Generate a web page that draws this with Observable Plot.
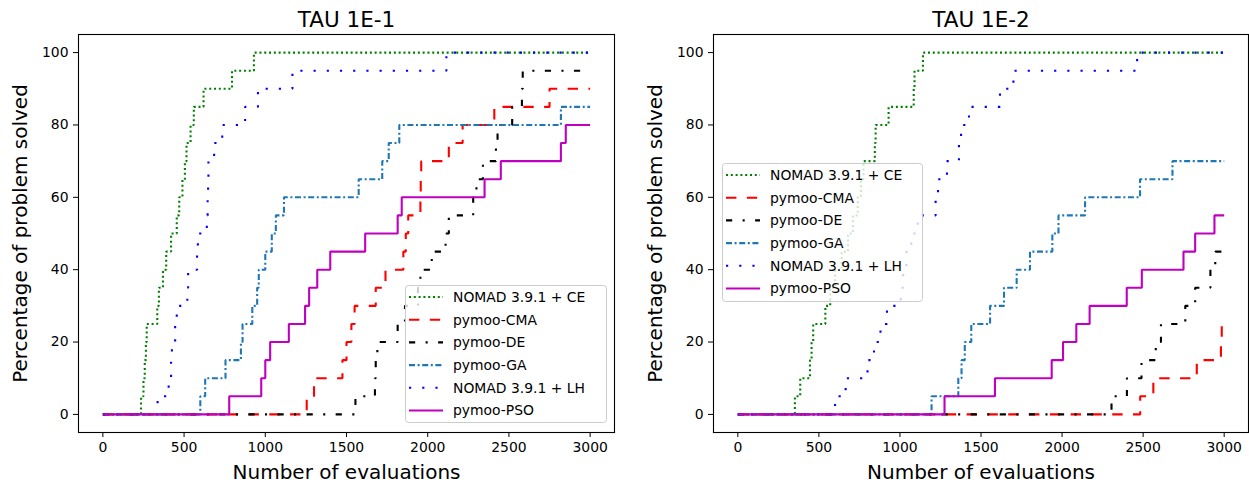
<!DOCTYPE html>
<html><head><meta charset="utf-8">
<script src="https://cdn.jsdelivr.net/npm/d3@7"></script>
<script src="https://cdn.jsdelivr.net/npm/@observablehq/plot@0.6"></script>
<style>
body{margin:0;background:#fff;}
#wrap{position:relative;width:1249px;height:486px;overflow:hidden;font-family:"DejaVu Sans",sans-serif;}
.panel{position:absolute;top:0;}
.legend{position:absolute;}
</style></head>
<body><div id="wrap"></div>
<script>
// ---------- data ----------
const seriesNames = ["NOMAD 3.9.1 + CE","pymoo-CMA","pymoo-DE","pymoo-GA","NOMAD 3.9.1 + LH","pymoo-PSO"];
const xTicks = [0,500,1000,1500,2000,2500,3000];
const yTicks = [0,20,40,60,80,100];
const panelTitles = ["TAU 1E-1","TAU 1E-2"];

// TAU 1E-1
const tau1_CE_x  = [0,235,250,258,265,270,335,345,370,390,420,455,470,490,505,515,540,560,620,795,930,3000];
const tau1_CE_y  = [0,5,10,15,20,25,30,35,40,45,50,55,60,65,70,75,80,85,90,95,100,100];
const tau1_CMA_x = [0,1255,1300,1475,1500,1530,1550,1680,1740,1850,1865,1880,1955,1957,1960,2130,2215,2410,2750,3000];
const tau1_CMA_y = [0,5,10,15,20,25,30,35,40,45,50,55,60,65,70,75,80,85,90,90];
const tau1_DE_x  = [0,1555,1675,1680,1690,1815,1860,1940,1955,2025,2110,2130,2280,2300,2340,2420,2430,2520,2580,2585,3000];
const tau1_DE_y  = [0,5,10,15,20,25,30,35,40,45,50,55,60,65,70,75,80,85,90,95,95];
const tau1_GA_x  = [0,600,630,755,850,860,920,950,960,1000,1040,1065,1115,1575,1720,1760,1825,2820,3000];
const tau1_GA_y  = [0,5,10,15,20,25,30,35,40,45,50,55,60,65,70,75,80,85,85];
const tau1_LH_x  = [0,337,405,420,425,445,455,520,525,580,585,640,645,648,650,685,735,876,955,1167,2115,3000];
const tau1_LH_y  = [0,5,10,15,20,25,30,35,40,45,50,55,60,65,70,75,80,85,90,95,100,100];
const tau1_PSO_x = [0,778,975,1000,1030,1145,1245,1270,1320,1400,1615,1815,1840,2350,2450,2820,2850,3000];
const tau1_PSO_y = [0,5,10,15,20,25,30,35,40,45,50,55,60,65,70,75,80,80];

// TAU 1E-2
const tau2_CE_x  = [0,352,385,445,455,465,540,570,600,640,680,710,740,760,775,845,850,930,1085,1090,1142,3000];
const tau2_CE_y  = [0,5,10,15,20,25,30,35,40,45,50,55,60,65,70,75,80,85,90,95,100,100];
const tau2_CMA_x = [0,2482,2563,2831,2980,2985,3000];
const tau2_CMA_y = [0,5,10,15,20,25,25];
const tau2_DE_x  = [0,2305,2400,2490,2578,2610,2760,2821,2915,2945,3000];
const tau2_DE_y  = [0,5,10,15,20,25,30,35,40,45,45];
const tau2_GA_x  = [0,1195,1360,1380,1400,1440,1556,1642,1720,1802,1940,1978,2142,2481,2681,3000];
const tau2_GA_y  = [0,5,10,15,20,25,30,35,40,45,50,55,60,65,70,70];
const tau2_LH_x  = [0,600,665,800,840,880,920,1005,1020,1040,1070,1110,1220,1235,1290,1364,1377,1426,1617,1700,2463,3000];
const tau2_LH_y  = [0,5,10,15,20,25,30,35,40,45,50,55,60,65,70,75,80,85,90,95,100,100];
const tau2_PSO_x = [0,1275,1586,1936,2006,2088,2170,2399,2492,2749,2821,2940,3000];
const tau2_PSO_y = [0,5,10,15,20,25,30,35,40,45,50,55,55];

// ---------- styles ----------
const seriesColors = ["#008000","#ff0000","#000000","#1f77b4","#0000ff","#bf00bf"];
const seriesDash   = ["2,2.8","10.4,10.4","6.2,10.4,2.1,10.4","6,2.6,2,2.6","2.2,11","none"];

const panelsData = [
  [[tau1_CE_x,tau1_CE_y],[tau1_CMA_x,tau1_CMA_y],[tau1_DE_x,tau1_DE_y],[tau1_GA_x,tau1_GA_y],[tau1_LH_x,tau1_LH_y],[tau1_PSO_x,tau1_PSO_y]],
  [[tau2_CE_x,tau2_CE_y],[tau2_CMA_x,tau2_CMA_y],[tau2_DE_x,tau2_DE_y],[tau2_GA_x,tau2_GA_y],[tau2_LH_x,tau2_LH_y],[tau2_PSO_x,tau2_PSO_y]]
];

const layouts = [
  {left:0, width:624, marginLeft:78, marginRight:10, legend:{left:405, top:285, w:202, h:138}},
  {left:624, width:625, marginLeft:89, marginRight:1, legend:{left:722, top:163, w:201, h:139}}
];

const wrap = document.getElementById("wrap");

panelsData.forEach((series, p) => {
  const L = layouts[p];
  const marks = [];
  series.forEach(([xs, ys], i) => {
    const rows = xs.map((x, j) => ({x, y: ys[j]}));
    marks.push(Plot.line(rows, {
      x: "x", y: "y", curve: "step-after",
      stroke: seriesColors[i], strokeWidth: 2.1,
      strokeDasharray: seriesDash[i] === "none" ? null : seriesDash[i],
      strokeLinecap: "butt", strokeLinejoin: "miter"
    }));
  });
  marks.push(Plot.axisX({ticks: xTicks, tickSize: 5, tickPadding: 5, tickFormat: d => String(d), label: null, fontSize: 13.9}));
  marks.push(Plot.axisY({ticks: yTicks, tickSize: 5, tickPadding: 5, tickFormat: d => String(d), label: null, fontSize: 13.9}));
  marks.push(Plot.frame({stroke: "#000", strokeWidth: 1.1}));
  marks.push(Plot.text([panelTitles[p]], {frameAnchor: "top", dy: -8, lineAnchor: "bottom", fontSize: 21.5, fill: "#000"}));
  marks.push(Plot.text(["Number of evaluations"], {frameAnchor: "bottom", dy: 46, lineAnchor: "bottom", fontSize: 20, fill: "#000"}));
  marks.push(Plot.text(["Percentage of problem solved"], {frameAnchor: "left", dx: -58, rotate: -90, textAnchor: "middle", fontSize: 20, fill: "#000"}));

  const chart = Plot.plot({
    width: L.width, height: 486,
    marginLeft: L.marginLeft, marginRight: L.marginRight, marginTop: 34, marginBottom: 54,
    x: {domain: [-150, 3150]},
    y: {domain: [-5, 105]},
    style: {fontFamily: "DejaVu Sans, sans-serif", fontSize: "13.9px", color: "#000", background: "transparent", overflow: "visible"},
    marks
  });
  chart.classList.add("panel");
  chart.style.left = L.left + "px";
  wrap.appendChild(chart);

  // legend
  const lg = L.legend;
  const svg = d3.select(wrap).append("svg")
    .attr("class", "legend")
    .style("left", lg.left + "px").style("top", lg.top + "px")
    .attr("width", lg.w).attr("height", lg.h);
  svg.append("rect").attr("x", 0.5).attr("y", 0.5).attr("width", lg.w - 1).attr("height", lg.h - 1)
    .attr("rx", 3).attr("fill", "rgba(255,255,255,0.8)").attr("stroke", "#cccccc").attr("stroke-width", 1);
  seriesNames.forEach((name, i) => {
    const cy = 12 + i * 22.7;
    svg.append("line").attr("x1", 4).attr("x2", 38).attr("y1", cy).attr("y2", cy)
      .attr("stroke", seriesColors[i]).attr("stroke-width", 2.1)
      .attr("stroke-dasharray", seriesDash[i] === "none" ? null : seriesDash[i]);
    svg.append("text").attr("x", 48).attr("y", cy).attr("dy", "0.35em")
      .attr("font-family", "DejaVu Sans, sans-serif").attr("font-size", 13.9).attr("fill", "#000")
      .text(name);
  });
});
</script>
</body></html>
